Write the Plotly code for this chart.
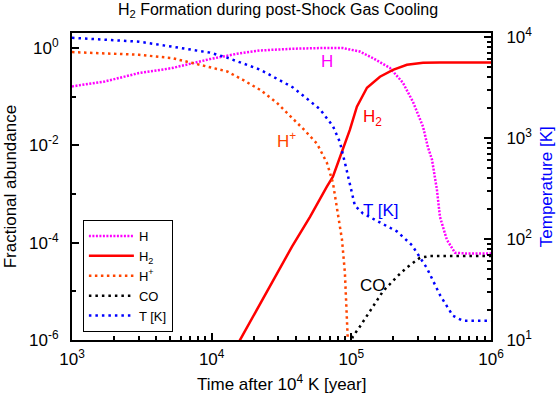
import plotly.graph_objects as go

# abundances (left axis) and temperature (right axis)
t_h = [1000, 1720, 3020, 5200, 9730, 15200, 22200, 38200, 60000, 87100, 115000,
       143000, 189000, 234000, 276000, 326000, 353000, 378000, 410000, 431000,
       483000, 552000, 672000, 1000000]
n_h = [0.163, 0.206, 0.307, 0.388, 0.594, 0.764, 0.893, 0.97, 1.0, 1.0, 0.85,
       0.62, 0.39, 0.194, 0.079, 0.0243, 0.0093, 0.0051, 0.00123, 3.4e-4,
       1.15e-4, 6.2e-5, 6e-5, 6e-5]

t_h2 = [13500, 15960, 37600, 50600, 66800, 73800, 80200, 87100, 92900, 97700,
        109600, 129400, 160300, 198600, 250000, 326000, 431000, 1000000]
n_h2 = [4.4e-7, 1.0e-6, 8.3e-5, 3.4e-4, 1.42e-3, 2.28e-3, 4.4e-3, 8.2e-3, 0.0131,
        0.021, 0.0623, 0.153, 0.258, 0.358, 0.454, 0.50, 0.505, 0.505]

t_hp = [1000, 1720, 3020, 5200, 6890, 9730, 12900, 16700, 22200, 29300, 38200,
        46600, 56800, 66800, 73800, 78900, 85700, 89900, 92900, 94600, 97700]
n_hp = [0.828, 0.789, 0.728, 0.623, 0.516, 0.413, 0.331, 0.223, 0.139, 0.0753,
        0.0353, 0.020, 0.0108, 0.00441, 0.00171, 5.5e-4, 1.16e-4, 2.44e-5,
        4.9e-6, 1.18e-6, 1e-7]

t_co = [95000, 102600, 115300, 143000, 168000, 212000, 250000, 310000, 366000, 1000000]
n_co = [6e-7, 1.18e-6, 1.9e-6, 4.9e-6, 9.9e-6, 2.0e-5, 3.1e-5, 4.9e-5, 5.3e-5, 5.3e-5]

t_T = [1000, 1720, 3020, 5200, 9730, 12900, 22200, 38200, 59600, 73800, 82800,
       91400, 97700, 106000, 121000, 152000, 212000, 272000, 348000, 431000,
       533000, 630000, 1000000]
temp = [9840, 9400, 9000, 8030, 7010, 6250, 4760, 3170, 1930, 1310, 912,
        519, 337, 214, 179, 152, 119, 86.7, 51.4, 27.9, 17.4, 15.5, 15.5]

x_ticks = [1e3, 1e4, 1e5, 1e6]
x_ticktext = ["10<sup>3</sup>", "10<sup>4</sup>", "10<sup>5</sup>", "10<sup>6</sup>"]
y_ticks = [1e-6, 1e-4, 1e-2, 1]
y_ticktext = ["10<sup>-6</sup>", "10<sup>-4</sup>", "10<sup>-2</sup>", "10<sup>0</sup>"]
y_minor = [1e-5, 1e-3, 1e-1]
y2_ticks = [10, 100, 1000, 10000]
y2_ticktext = ["10<sup>1</sup>", "10<sup>2</sup>", "10<sup>3</sup>", "10<sup>4</sup>"]

FONT = "Liberation Sans, Arial, sans-serif"

fig = go.Figure()
fig.add_trace(go.Scatter(x=t_h, y=n_h, name="H", mode="lines",
                         line=dict(color="#ff00ff", width=2.5, dash="2px,1.5px")))
fig.add_trace(go.Scatter(x=t_h2, y=n_h2, name="H<sub>2</sub>", mode="lines",
                         line=dict(color="#ff0000", width=2.5)))
fig.add_trace(go.Scatter(x=t_hp, y=n_hp, name="H<sup>+</sup>", mode="lines",
                         line=dict(color="#ff4500", width=2.5, dash="2.5px,3.5px")))
fig.add_trace(go.Scatter(x=t_co, y=n_co, name="CO", mode="lines",
                         line=dict(color="#000000", width=2.5, dash="2.5px,4px")))
fig.add_trace(go.Scatter(x=t_T, y=temp, name="T [K]", mode="lines", yaxis="y2",
                         line=dict(color="#0000ff", width=2.5, dash="2.5px,4px")))

# minor ticks for log axes (2..9 per decade)
x_minor = [m * 10 ** k for k in range(3, 6) for m in range(2, 10)]
y2_minor = [m * 10 ** k for k in range(1, 4) for m in range(2, 10)]

fig.update_layout(
    width=556, height=395,
    margin=dict(l=72, r=65, t=33, b=55),
    paper_bgcolor="white", plot_bgcolor="white",
    font=dict(family=FONT, size=17, color="black"),
    title=dict(text="H<sub>2</sub> Formation during post-Shock Gas Cooling",
               x=0.5, xanchor="center", y=0.976, yanchor="middle",
               font=dict(size=16)),
    xaxis=dict(type="log", range=[3, 6], showgrid=False, zeroline=False,
               showline=True, linecolor="black", linewidth=2, mirror=True,
               ticks="inside", ticklen=7, tickwidth=1.5, tickcolor="black",
               tickvals=x_ticks, ticktext=x_ticktext, ticklabelstandoff=3,
               minor=dict(tickvals=x_minor, ticks="inside", ticklen=4,
                          tickwidth=1.5, tickcolor="black", showgrid=False)),
    yaxis=dict(type="log", range=[-6, 0.31], showgrid=False, zeroline=False,
               showline=True, linecolor="black", linewidth=2,
               ticks="inside", ticklen=7, tickwidth=1.5, tickcolor="black",
               tickvals=y_ticks, ticktext=y_ticktext, ticklabelstandoff=8,
               minor=dict(tickvals=y_minor, ticks="inside", ticklen=4,
                          tickwidth=1.5, tickcolor="black", showgrid=False)),
    yaxis2=dict(type="log", range=[1, 4.04], overlaying="y", side="right",
                showgrid=False, zeroline=False,
                showline=True, linecolor="black", linewidth=2,
                ticks="inside", ticklen=7, tickwidth=1.5, tickcolor="black",
                tickvals=y2_ticks, ticktext=y2_ticktext, ticklabelstandoff=10,
                minor=dict(tickvals=y2_minor, ticks="inside", ticklen=4,
                           tickwidth=1.5, tickcolor="black", showgrid=False)),
    legend=dict(x=0.026, y=0.026, xanchor="left", yanchor="bottom",
                bgcolor="white", bordercolor="black", borderwidth=1,
                font=dict(size=13), itemwidth=45, tracegroupgap=0),
    showlegend=True,
)

# axis titles
fig.add_annotation(text="Time after 10<sup>4</sup> K [year]", xref="paper", yref="paper",
                   x=0.5, y=-0.14, xanchor="center", yanchor="middle", showarrow=False)
fig.add_annotation(text="Fractional abundance", xref="paper", yref="paper",
                   x=-0.146, y=0.5, textangle=-90, xanchor="center", yanchor="middle",
                   showarrow=False)
fig.add_annotation(text="Temperature [K]", xref="paper", yref="paper",
                   x=1.133, y=0.5, textangle=-90, xanchor="center", yanchor="middle",
                   showarrow=False, font=dict(color="#0000ff"))

# curve labels
labels = [("H", 0.609, 0.906, "#ff00ff"), ("H<sub>2</sub>", 0.716, 0.723, "#ff0000"),
          ("H<sup>+</sup>", 0.513, 0.651, "#ff4500"), ("T [K]", 0.738, 0.423, "#0000ff"),
          ("CO", 0.718, 0.179, "#000000")]
for txt, lx, ly, col in labels:
    fig.add_annotation(text=txt, xref="paper", yref="paper", x=lx, y=ly,
                       xanchor="center", yanchor="middle", showarrow=False,
                       font=dict(color=col))

# page body has a default 8px margin; drop it so the figure sits at the window origin
fig.write_html("out.html", config={"displayModeBar": False},
               post_script="document.body.style.margin='0px';")
